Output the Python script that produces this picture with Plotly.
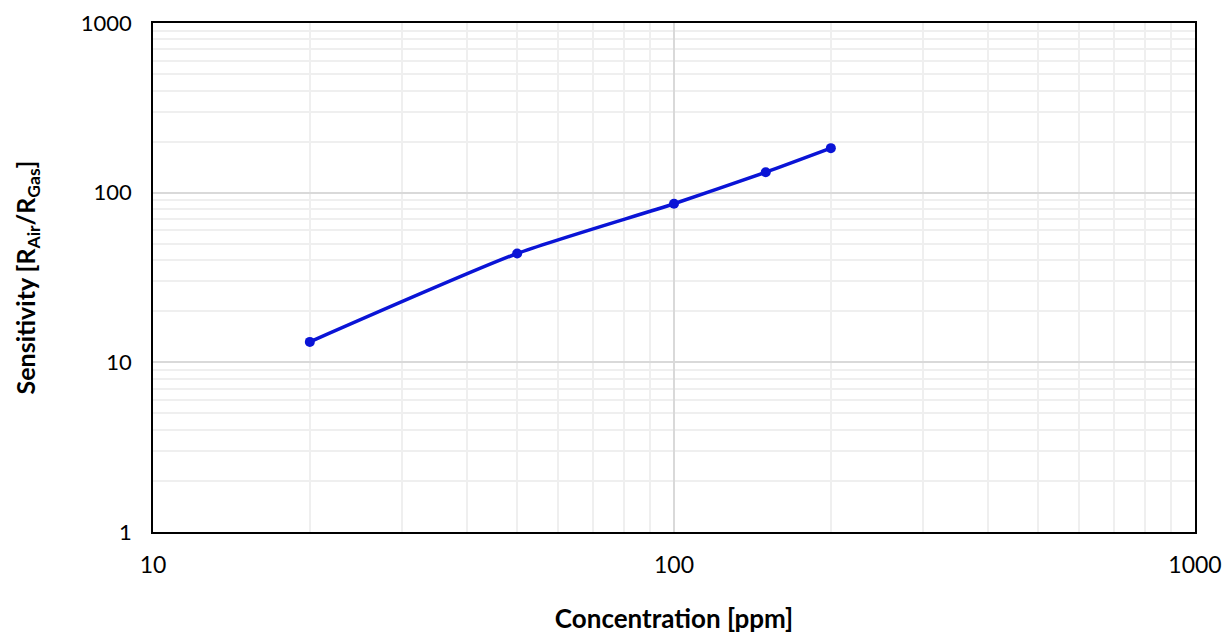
import plotly.graph_objects as go

concentration = [20, 50, 100, 150, 200]
sensitivity = [13.2, 43.8, 86, 132, 183]
x_ticks = [10, 100, 1000]
y_ticks = [1, 10, 100, 1000]

fig = go.Figure()
fig.add_trace(go.Scatter(
    x=concentration, y=sensitivity, mode="lines+markers",
    line=dict(color="#0a14d6", width=3.5, shape="spline", smoothing=0.6),
    marker=dict(color="#0a14d6", size=10),
    showlegend=False,
))

font = "Lato, Open Sans, sans-serif"
fig.update_layout(
    width=1215, height=626,
    margin=dict(l=145, r=28, t=15, b=102),
    paper_bgcolor="white", plot_bgcolor="white",
    font=dict(family=font, size=25, color="black"),
)
fig.update_xaxes(
    type="log", range=[1, 3], automargin=False,
    tickvals=x_ticks, ticktext=[str(v) for v in x_ticks],
    tickfont=dict(size=23), ticklabeloverflow="allow",
    showline=True, linecolor="black", linewidth=1.5, mirror=True,
    showgrid=True, gridcolor="#d9d9d9", gridwidth=1.5,
    minor=dict(dtick="D1", showgrid=True, gridcolor="#efefef", gridwidth=1.5, ticks=""),
    ticks="", ticklabelstandoff=12,
    zeroline=False,
    title=dict(text="<b>Concentration [ppm]</b>", font=dict(size=26), standoff=32),
)
fig.update_yaxes(
    type="log", range=[0, 3], automargin=False,
    tickvals=y_ticks, ticktext=[str(v) for v in y_ticks],
    tickfont=dict(size=22), ticklabeloverflow="allow",
    showline=True, linecolor="black", linewidth=1.5, mirror=True,
    showgrid=True, gridcolor="#d9d9d9", gridwidth=1.5,
    minor=dict(dtick="D1", showgrid=True, gridcolor="#efefef", gridwidth=1.5, ticks=""),
    ticks="", ticklabelstandoff=15,
    zeroline=False,
    title=dict(text="<b>Sensitivity [R<sub>Air</sub>/R<sub>Gas</sub>]</b>", font=dict(size=25), standoff=38),
)

fig.write_html("out.html")
